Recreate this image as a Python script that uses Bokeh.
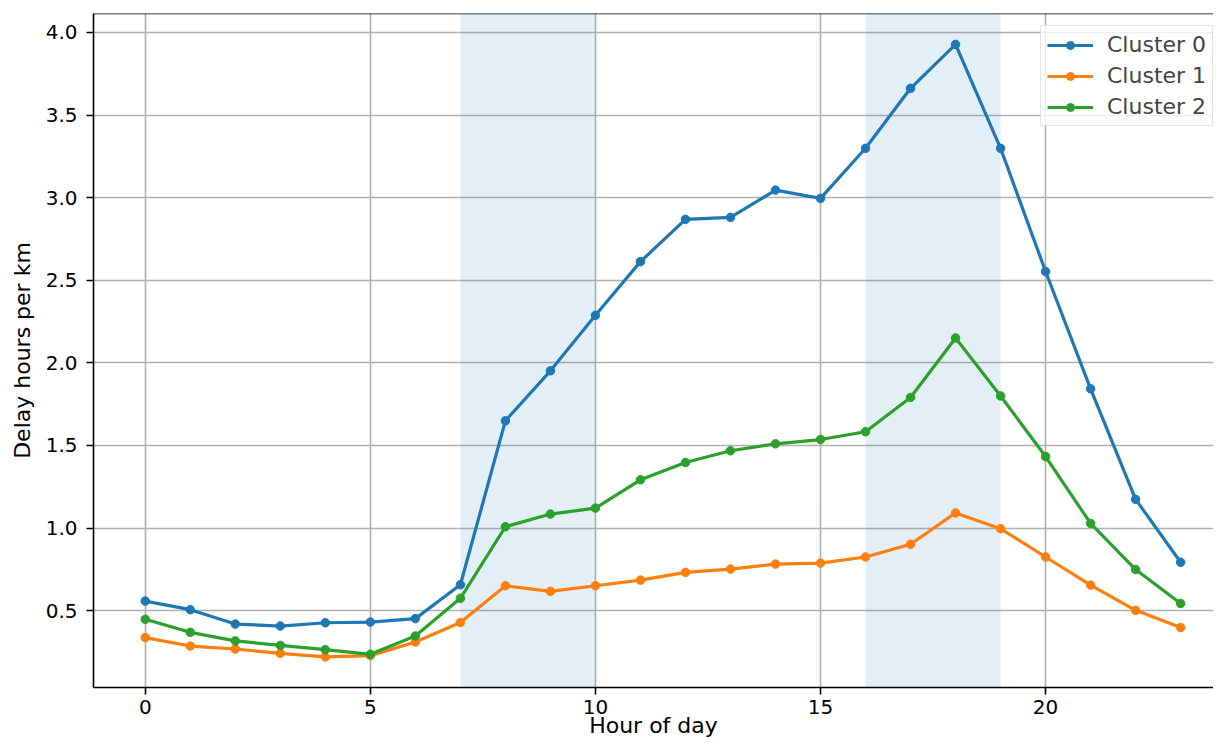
from bokeh.plotting import figure
from bokeh.models import BoxAnnotation, FixedTicker, PrintfTickFormatter, Range1d, Span
from bokeh.embed import file_html
from bokeh.resources import INLINE

hours = list(range(24))
cluster0 = [0.558, 0.506, 0.419, 0.407, 0.427, 0.431, 0.452, 0.657, 1.649, 1.952, 2.288, 2.613,
            2.869, 2.881, 3.046, 2.996, 3.299, 3.662, 3.928, 3.299, 2.553, 1.843, 1.174, 0.793]
cluster1 = [0.337, 0.286, 0.268, 0.242, 0.220, 0.228, 0.310, 0.429, 0.651, 0.617, 0.651, 0.685,
            0.732, 0.752, 0.782, 0.788, 0.825, 0.902, 1.092, 0.996, 0.825, 0.655, 0.502, 0.398]
cluster2 = [0.448, 0.369, 0.317, 0.290, 0.264, 0.236, 0.347, 0.575, 1.008, 1.085, 1.121, 1.292,
            1.397, 1.468, 1.510, 1.536, 1.583, 1.791, 2.151, 1.800, 1.433, 1.028, 0.749, 0.544]
series_names = ["Cluster 0", "Cluster 1", "Cluster 2"]
series_colors = ["#1f77b4", "#ff7f0e", "#2ca02c"]
peak_starts = [7, 16]
peak_ends = [10, 19]
x_ticks = [0, 5, 10, 15, 20]
y_ticks = [0.5, 1.0, 1.5, 2.0, 2.5, 3.0, 3.5, 4.0]
x_label = "Hour of day"
y_label = "Delay hours per km"

FONT = "DejaVu Sans"
X0, X1 = -1.15, 23.73
Y0, Y1 = 0.035, 4.115

p = figure(width=1213, height=746, output_backend="svg", toolbar_location=None,
           x_range=Range1d(X0, X1), y_range=Range1d(Y0, Y1),
           min_border_left=93, min_border_right=0, min_border_top=13, min_border_bottom=59)
p.background_fill_color = "white"
p.border_fill_color = "white"
p.outline_line_color = None

for s, e in zip(peak_starts, peak_ends):
    p.add_layout(BoxAnnotation(left=s, right=e, fill_color="#1f77b4", fill_alpha=0.12,
                               line_color=None, level="underlay"))

for ys, name, col in zip([cluster0, cluster1, cluster2], series_names, series_colors):
    p.line(hours, ys, line_color=col, line_width=3.2, legend_label=name)
    p.scatter(hours, ys, size=8.5, fill_color=col, line_color=col, legend_label=name)

# top spine
p.add_layout(Span(location=Y1, dimension="width", line_color="black", line_width=1.6))

p.xaxis.ticker = FixedTicker(ticks=x_ticks)
p.yaxis.ticker = FixedTicker(ticks=y_ticks)
p.yaxis.formatter = PrintfTickFormatter(format="%.1f")
p.xaxis.axis_label = x_label
p.yaxis.axis_label = y_label

for ax in (p.xaxis, p.yaxis):
    ax.axis_line_color = "black"
    ax.axis_line_width = 1.6
    ax.major_tick_line_color = "black"
    ax.major_tick_line_width = 1.6
    ax.major_tick_out = 7
    ax.major_tick_in = 0
    ax.minor_tick_line_color = None
    ax.major_label_text_font = FONT
    ax.major_label_text_font_size = "20px"
    ax.major_label_text_color = "black"
    ax.axis_label_text_font = FONT
    ax.axis_label_text_font_size = "22px"
    ax.axis_label_text_font_style = "normal"
    ax.axis_label_text_color = "black"

p.xaxis.major_label_standoff = 5
p.xaxis.axis_label_standoff = -4
p.yaxis.major_label_standoff = 9
p.yaxis.axis_label_standoff = 8

for g in (p.xgrid, p.ygrid):
    g.grid_line_color = "#b0b0b0"
    g.grid_line_width = 1.6

lg = p.legend[0]
lg.location = (947, 561)
lg.label_text_font = FONT
lg.label_text_font_size = "22px"
lg.glyph_width = 46
lg.glyph_height = 20
lg.label_standoff = 14
lg.padding = 6
lg.spacing = 6
lg.border_line_color = "#cccccc"
lg.border_line_width = 1.6
lg.background_fill_alpha = 0.8

open("out.html", "w").write(file_html(p, INLINE))
